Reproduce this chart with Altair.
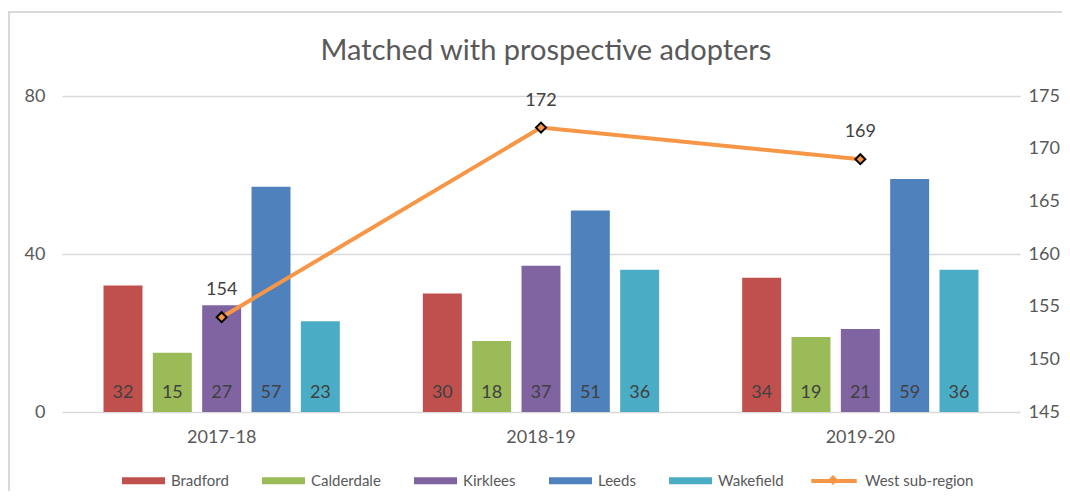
import altair as alt
import pandas as pd

years = ["2017-18", "2018-19", "2019-20"]
series = ["Bradford", "Calderdale", "Kirklees", "Leeds", "Wakefield"]
bradford = [32, 30, 34]
calderdale = [15, 18, 19]
kirklees = [27, 37, 21]
leeds = [57, 51, 59]
wakefield = [23, 36, 36]
west = [154, 172, 169]
bar_colors = ["#C0504D", "#9BBB59", "#8064A2", "#4F81BD", "#4BACC6"]
line_name = "West sub-region"
line_color = "#F79646"
left_ticks = [0, 40, 80]
right_ticks = [145, 150, 155, 160, 165, 170, 175]

rows = []
for s, vals in zip(series, [bradford, calderdale, kirklees, leeds, wakefield]):
    for yr, v in zip(years, vals):
        rows.append({"year": yr, "series": s, "value": v})
bars_df = pd.DataFrame(rows)
line_df = pd.DataFrame({"year": years, "value": west, "series": [line_name] * 3})
frame_df = pd.DataFrame({"k": [0]})

FONT = "Lato"
GREY = "#595959"
LABEL = "#404040"

RECT_PATH = "M-1,-0.163L1,-0.163L1,0.163L-1,0.163Z"
LINE_PATH = "M-1,0L1,0"
DIAMOND_PATH = "M0,-0.22L0.22,0L0,0.22L-0.22,0Z"

x_enc = alt.X(
    "year:N", sort=years,
    scale=alt.Scale(paddingInner=0.26, paddingOuter=0.13),
    axis=alt.Axis(title=None, domain=False, ticks=False, labelAngle=0,
                  labelFontSize=18, labelColor=GREY, labelPadding=16, labelFont=FONT),
)

bar_base = alt.Chart(bars_df).encode(
    x=x_enc,
    xOffset=alt.XOffset("series:N", sort=series,
                        scale=alt.Scale(paddingInner=0.21, paddingOuter=0)),
)

bars = bar_base.mark_bar().encode(
    y=alt.Y("value:Q", scale=alt.Scale(domain=[0, 80]),
            axis=alt.Axis(values=left_ticks, title=None, domain=False, ticks=False,
                          grid=True, gridColor="#d9d9d9", gridWidth=1.5,
                          labelFontSize=18, labelColor=GREY, labelPadding=17,
                          labelFont=FONT)),
    color=alt.Color("series:N", sort=series,
                    scale=alt.Scale(domain=series, range=bar_colors),
                    legend=alt.Legend(orient="none", direction="horizontal",
                                      legendX=60, legendY=363, title=None,
                                      symbolType=RECT_PATH, symbolSize=1849,
                                      symbolStrokeWidth=0,
                                      labelFont=FONT, labelFontSize=15,
                                      labelColor=GREY, labelOffset=6,
                                      columnPadding=33, padding=0)),
)

bar_text = bar_base.mark_text(baseline="alphabetic", dy=-14, fontSize=18,
                              color=LABEL, font=FONT).encode(
    y=alt.YDatum(0),
    text="value:Q",
)

bar_layer = alt.layer(bars, bar_text)

line_base = alt.Chart(line_df).encode(
    x=alt.X("year:N", sort=years),
    y=alt.Y("value:Q", scale=alt.Scale(domain=[145, 175]),
            axis=alt.Axis(orient="right", values=right_ticks, title=None,
                          domain=False, ticks=False, grid=False,
                          labelFontSize=18, labelColor=GREY, labelPadding=8,
                          labelFont=FONT)),
)

line = line_base.mark_line(strokeWidth=4).encode(
    stroke=alt.Stroke("series:N",
                      scale=alt.Scale(domain=[line_name], range=[line_color]),
                      legend=alt.Legend(orient="none", direction="horizontal",
                                        legendX=747, legendY=360, title=None,
                                        symbolType=LINE_PATH, symbolSize=2070,
                                        symbolStrokeWidth=4,
                                        labelFont=FONT, labelFontSize=15,
                                        labelColor=GREY, labelOffset=6, padding=0)),
)

pts = line_base.mark_point(filled=True, fill=line_color, stroke="black",
                           strokeWidth=2, size=2070, opacity=1).encode(
    shape=alt.Shape("series:N", scale=alt.Scale(range=[DIAMOND_PATH]),
                    legend=alt.Legend(orient="none", direction="horizontal",
                                      legendX=747, legendY=360, title=None,
                                      symbolSize=2070, symbolFillColor=line_color,
                                      symbolStrokeColor="black", symbolStrokeWidth=2,
                                      labelFont=FONT, labelFontSize=15,
                                      labelColor=GREY, labelOpacity=0,
                                      labelOffset=6, padding=0)),
)

line_text = line_base.mark_text(baseline="alphabetic", dy=-22, fontSize=18,
                                color=LABEL, font=FONT).encode(text="value:Q")

line_layer = alt.layer(line, pts, line_text)

frame = alt.Chart(frame_df).mark_rect(fillOpacity=0, stroke="#d9d9d9",
                                       strokeWidth=2).encode(
    x=alt.value(-53), x2=alt.value(1200), y=alt.value(-84), y2=alt.value(1000)
)

chart = alt.layer(frame, bar_layer, line_layer).resolve_scale(
    y="independent"
).properties(
    width=958, height=316,
    padding={"left": 54, "top": 88, "right": 42, "bottom": 79},
    autosize=alt.AutoSizeParams(type="none"),
    title=alt.TitleParams("Matched with prospective adopters", fontSize=29,
                          font=FONT, color=GREY, fontWeight="normal",
                          anchor="middle", frame="group", baseline="alphabetic",
                          dx=5, dy=78, offset=0),
).configure_view(strokeWidth=0)

chart.save("out.html", embed_options={"renderer": "svg", "actions": False})
